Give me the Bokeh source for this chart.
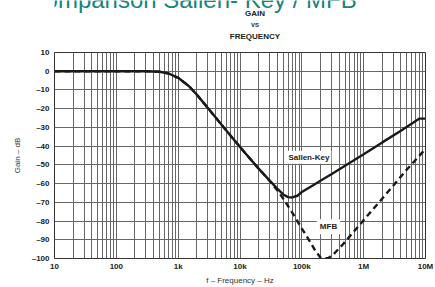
from bokeh.plotting import figure
from bokeh.models import Label, FixedTicker, Range1d
from bokeh.layouts import column
from bokeh.embed import file_html
from bokeh.resources import INLINE

# ---- data ----
sk_freq = [10, 100, 300, 500, 700, 1000, 1500, 2000, 3000, 5000, 10000, 20000, 30000,
           40000, 50000, 60000, 70000, 85000, 100000, 150000, 200000, 300000, 500000,
           1e6, 2e6, 4e6, 8e6, 1e7]
sk_db = [0, 0, 0, -0.3, -1.2, -3.5, -8, -12.5, -19.5, -28.5, -40.5, -52, -58.3,
         -62.7, -65.8, -67.2, -67.4, -66.5, -64.5, -61, -58.5, -55, -50.5,
         -44.3, -38, -31.8, -25.3, -25.3]

mfb_freq = [10, 100, 300, 500, 700, 1000, 1500, 2000, 3000, 5000, 10000, 20000, 30000,
            40000, 50000, 70000, 100000, 130000, 166000, 200000, 230000, 270000, 320000,
            460000, 700000, 1e6, 2e6, 5e6, 1e7]
mfb_db = [0, 0, 0, -0.3, -1.2, -3.5, -8, -12.5, -19.5, -28.5, -40.5, -52, -58.5,
          -63.5, -68, -75.5, -84, -90, -96, -99.5, -100, -99.7, -98,
          -92.5, -85.5, -79.5, -68, -52.5, -41.5]

x_ticks = [10, 100, 1000, 10000, 100000, 1000000, 10000000]
x_tick_labels = ["10", "100", "1k", "10k", "100k", "1M", "10M"]
y_ticks = [10, 0, -10, -20, -30, -40, -50, -60, -70, -80, -90, -100]
y_tick_labels = ["10", "0", "–10", "–20", "–30", "–40", "–50", "–60", "–70", "–80", "–90", "–100"]

slide_title = "Comparison Sallen- Key / MFB"
chart_title = ["GAIN", "VS", "FREQUENCY"]

FONT = "Arial"
W = 435
TOP_H = 46
MAIN_H = 241

# ---- header strip (slide title + chart title) ----
head = figure(width=W, height=TOP_H, x_range=Range1d(0, W), y_range=Range1d(TOP_H, 0),
              output_backend="svg", toolbar_location=None,
              x_axis_location=None, y_axis_location=None,
              min_border_left=0, min_border_right=0, min_border_top=0, min_border_bottom=0)
head.outline_line_color = None
head.grid.visible = False
head.background_fill_color = "white"
head.border_fill_color = "white"
head.add_layout(Label(x=-32, y=-1.5, text=slide_title, text_font=FONT,
                      text_font_size="24px", text_color="#17857a",
                      text_baseline="alphabetic"))
for txt, yy, fs in zip(chart_title, [13.4, 24.4, 35.8], ["8px", "6px", "8px"]):
    head.add_layout(Label(x=235, y=yy, text=txt, text_align="center", text_baseline="middle",
                          text_font=FONT, text_font_style="bold",
                          text_font_size=fs, text_color="#222222"))

# ---- main chart ----
p = figure(width=W, height=MAIN_H, x_axis_type="log", x_range=(10, 1e7), y_range=(-100, 10),
           output_backend="svg", toolbar_location=None,
           min_border_left=54, min_border_right=10, min_border_top=6, min_border_bottom=29)
p.background_fill_color = "white"
p.border_fill_color = "white"
p.outline_line_color = "#333333"
p.outline_line_width = 1

minor = [k * d for d in x_ticks[:-1] for k in range(2, 10)]
p.xaxis.ticker = FixedTicker(ticks=x_ticks, minor_ticks=minor)
p.xaxis.major_label_overrides = {t: l for t, l in zip(x_ticks, x_tick_labels)}
p.yaxis.ticker = FixedTicker(ticks=y_ticks)
p.yaxis.major_label_overrides = {t: l for t, l in zip(y_ticks, y_tick_labels)}

for ax in (p.xaxis, p.yaxis):
    ax.major_tick_line_color = None
    ax.minor_tick_line_color = None
    ax.major_tick_out = 0
    ax.major_tick_in = 0
    ax.minor_tick_out = 0
    ax.minor_tick_in = 0
    ax.axis_line_color = None
    ax.major_label_text_font = FONT
    ax.major_label_text_font_style = "bold"
    ax.major_label_text_font_size = "8px"
    ax.major_label_text_color = "#222222"
    ax.axis_label_text_font = FONT
    ax.axis_label_text_font_style = "normal"
    ax.axis_label_text_font_size = "8px"
    ax.axis_label_text_color = "#333333"

p.xaxis.major_label_standoff = 3
p.yaxis.major_label_standoff = 5
p.xaxis.axis_label = "f – Frequency – Hz"
p.yaxis.axis_label = "Gain – dB"
p.xaxis.axis_label_standoff = 2
p.yaxis.axis_label_standoff = 7

p.xgrid.grid_line_color = "#666666"
p.xgrid.grid_line_width = 1
p.xgrid.minor_grid_line_color = "#666666"
p.xgrid.minor_grid_line_width = 1
p.ygrid.grid_line_color = "#666666"
p.ygrid.grid_line_width = 1

p.line(sk_freq, sk_db, line_color="#1a1a1a", line_width=2.4)
p.line(mfb_freq, mfb_db, line_color="#1a1a1a", line_width=2.4, line_dash="6 4")

p.add_layout(Label(x=130000, y=-46, text="Sallen-Key", text_align="center",
                   text_baseline="middle", text_font=FONT,
                   text_font_style="bold", text_font_size="8px", text_color="#222222",
                   background_fill_color="white", padding=2))
p.add_layout(Label(x=270000, y=-83, text="MFB", text_align="center",
                   text_baseline="middle", text_font=FONT,
                   text_font_style="bold", text_font_size="8px", text_color="#222222",
                   background_fill_color="white", padding=3))

layout = column(head, p, spacing=0)
open("out.html", "w").write(file_html(layout, INLINE))
